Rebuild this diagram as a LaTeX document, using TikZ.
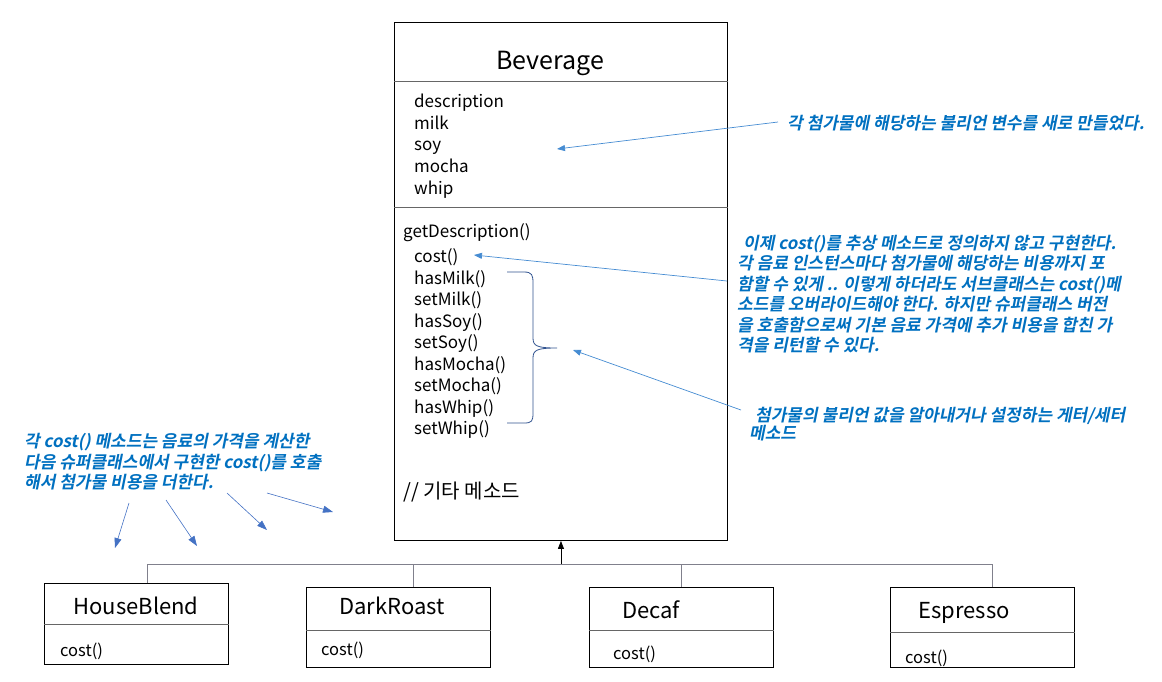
\documentclass[tikz,border=0pt]{standalone}
\usepackage{fontspec}
\setmainfont{Noto Sans CJK KR}
\newfontfamily\notefont[UprightFont=* Bold, FakeSlant=0.2]{Noto Sans CJK KR}
\usetikzlibrary{arrows.meta,calc}

\definecolor{notetext}{RGB}{0,112,192}
\definecolor{notearr}{RGB}{70,140,210}
\definecolor{fanarr}{RGB}{68,114,196}
\definecolor{bracecol}{RGB}{47,82,143}
\definecolor{linegray}{RGB}{128,128,140}

\tikzset{
  classbox/.style={draw, line width=0.9pt, inner sep=0pt, minimum width=184pt, minimum height=80pt},
  sepline/.style={line width=0.6pt, draw=black!60},
  classname/.style={inner sep=0pt, text height=16pt, text depth=4pt, font=\fontsize{22}{25}\selectfont},
  member/.style={anchor=west, inner sep=0pt, text height=13pt, text depth=4pt, font=\fontsize{17}{20}\selectfont},
  submember/.style={anchor=west, inner sep=0pt, text height=12pt, text depth=4pt, font=\fontsize{16.5}{19}\selectfont},
  note/.style={anchor=west, inner sep=0pt, align=left, text=notetext, font=\notefont\fontsize{17}{20.5}\selectfont},
  notearrow/.style={draw=notearr, line width=0.7pt, -{Triangle[length=8pt,width=6pt]}},
  fanarrow/.style={draw=fanarr, line width=0.6pt, -{Triangle[length=10pt,width=7pt]}},
  genline/.style={draw=linegray, line width=0.8pt},
}

\begin{document}
\begin{tikzpicture}[x=1pt, y=-1pt]
  \useasboundingbox (0,0) rectangle (1162,681);

  % superclass
  \node[draw, line width=0.9pt, inner sep=0pt, anchor=north west, minimum width=333pt, minimum height=518pt] (bev) at (394,22) {};
  \draw[sepline] (bev.west |- 0,81) -- (bev.east |- 0,81);
  \draw[sepline] (bev.west |- 0,207) -- (bev.east |- 0,207);
  \node[inner sep=0pt, font=\fontsize{25}{28}\selectfont] (bevname) at (550,63) {Beverage};

  \foreach \f [count=\i from 0] in {description,milk,soy,mocha,whip}
    \node[member] (f\i) at (414,{103+21.7*\i}) {\f};

  \node[member] (getdesc) at (403,233) {getDescription()};
  \foreach \m [count=\i from 0] in {cost(),hasMilk(),setMilk(),hasSoy(),setSoy(),hasMocha(),setMocha(),hasWhip(),setWhip()}
    \node[member] (m\i) at (414,{258+21.5*\i}) {\m};
  \node[member, text height=15pt, font=\fontsize{20}{23}\selectfont] (etc) at (403,493) {// 기타 메소드};

  % brace around getters/setters
  \draw[draw=bracecol, line width=0.8pt] (507,272) -- (524,272) .. controls (532,272) and (533,275) .. (533,283)
    -- (533,338) .. controls (533,346) and (537,348) .. (557,348)
    .. controls (537,348) and (533,350) .. (533,358) -- (533,413)
    .. controls (533,421) and (532,423) .. (524,423) -- (507,423);

  % notes
  \node[note] (n1) at (787,123) {각 첨가물에 해당하는 불리언 변수를 새로 만들었다.};
  \node[note] (n2) at (737,294) {\hspace*{6pt}이제 cost()를 추상 메소드로 정의하지 않고 구현한다.\\
    각 음료 인스턴스마다 첨가물에 해당하는 비용까지 포\\
    함할 수 있게 .. 이렇게 하더라도 서브클래스는 cost()메\\
    소드를 오버라이드해야 한다. 하지만 슈퍼클래스 버전\\
    을 호출함으로써 기본 음료 가격에 추가 비용을 합친 가\\
    격을 리턴할 수 있다.};
  \node[note, font=\notefont\fontsize{17}{18.5}\selectfont] (n3) at (749,424) {\hspace*{6pt}첨가물의 불리언 값을 알아내거나 설정하는 게터/세터\\메소드};
  \node[note] (n4) at (24,462) {각 cost() 메소드는 음료의 가격을 계산한\\
    다음 슈퍼클래스에서 구현한 cost()를 호출\\
    해서 첨가물 비용을 더한다.};

  \coordinate (s1) at (778,122);
  \coordinate (t1) at (557,149);
  \coordinate (s2) at (727,281);
  \coordinate (t2) at (474,255);
  \coordinate (s3) at (741,410);
  \coordinate (t3) at (573,350);
  \draw[notearrow] (s1) -- (t1);
  \draw[notearrow] (s2) -- (t2);
  \draw[notearrow] (s3) -- (t3);

  \foreach \sx/\sy/\ex/\ey [count=\i] in {129/503/115/548, 166/500/197/546, 227/493/267/530, 267/493/333/512} {
    \coordinate (fs\i) at (\sx,\sy);
    \coordinate (fe\i) at (\ex,\ey);
    \draw[fanarrow] (fs\i) -- (fe\i);
  }

  % subclasses
  \node[classbox, anchor=north west, minimum height=81pt] (hb) at (44,583) {};
  \node[classbox, anchor=north west] (dr) at (306,587) {};
  \node[classbox, anchor=north west] (dc) at (589,587) {};
  \node[classbox, anchor=north west] (es) at (890,587) {};

  \draw[sepline] (hb.west |- 0,624) -- (hb.east |- 0,624);
  \draw[sepline] (dr.west |- 0,630) -- (dr.east |- 0,630);
  \draw[sepline] (dc.west |- 0,630) -- (dc.east |- 0,630);
  \draw[sepline] (es.west |- 0,632) -- (es.east |- 0,632);

  \node[classname] (hbname) at (136,608) {HouseBlend};
  \node[classname] (drname) at (392,608) {DarkRoast};
  \node[classname] (dcname) at (651,612) {Decaf};
  \node[classname] (esname) at (964,612) {Espresso};

  \node[submember] (hbcost) at (60,652) {cost()};
  \node[submember] (drcost) at (321,651) {cost()};
  \node[submember] (dccost) at (613,655) {cost()};
  \node[submember] (escost) at (905,659) {cost()};

  % inheritance
  \coordinate (bus) at (bev.south |- 0,564);
  \draw[genline] ([xshift=11pt]hb.north) |- (bus);
  \draw[genline] ([xshift=14.5pt]dr.north) |- (bus);
  \draw[genline] (dc.north) |- (bus);
  \draw[genline] ([xshift=10pt]es.north) |- (bus);
  \draw[line width=0.8pt, -{Triangle[length=8pt,width=6pt]}] (bus) -- (bev.south);
\end{tikzpicture}
\end{document}
